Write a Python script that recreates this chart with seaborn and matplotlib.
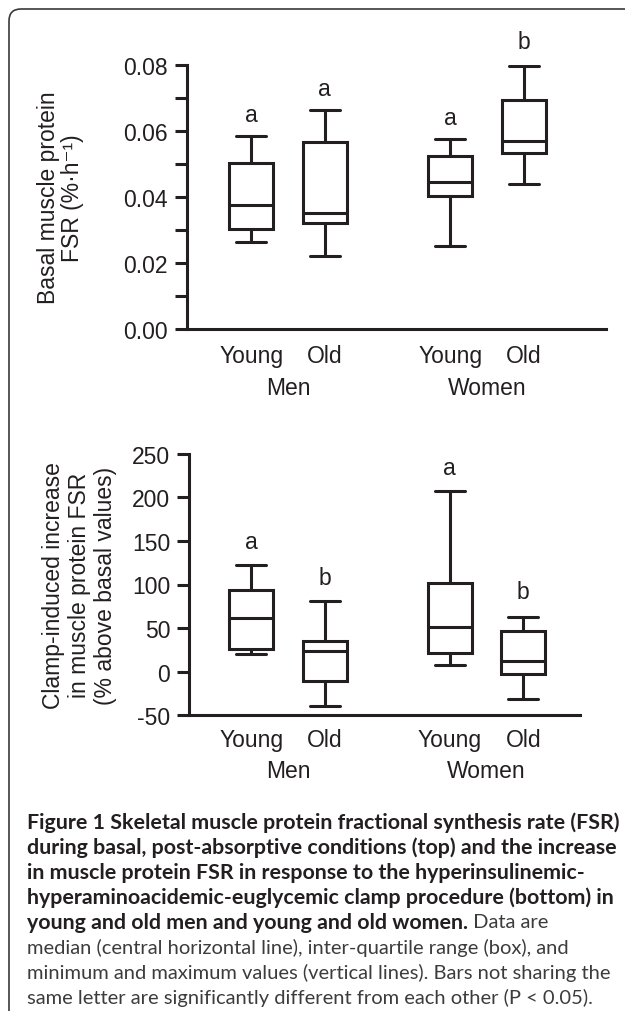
import pandas as pd
import seaborn as sns
import matplotlib.pyplot as plt
from matplotlib.patches import FancyBboxPatch
from matplotlib.ticker import MultipleLocator, FormatStrFormatter

INK = '#231f20'

sexes = ['Men', 'Women']
ages = ['Young', 'Old']

# five-number summaries: min, q1, median, q3, max
# order: Men-Young, Men-Old, Women-Young, Women-Old
basal_fsr = [
    [0.0265, 0.0303, 0.0375, 0.0502, 0.0584],
    [0.0222, 0.0322, 0.0352, 0.0567, 0.0664],
    [0.0253, 0.0404, 0.0446, 0.0524, 0.0577],
    [0.0438, 0.0532, 0.0569, 0.0693, 0.0797],
]
clamp_increase = [
    [20, 26, 61, 94, 122],
    [-40, -11, 24, 35, 81],
    [8, 21, 51, 102, 207],
    [-32, -3, 12, 46, 63],
]
basal_letters = ['a', 'a', 'a', 'b']
basal_letter_y = [0.065, 0.073, 0.064, 0.087]
clamp_letters = ['a', 'b', 'a', 'b']
clamp_letter_y = [149, 108, 235, 92]

caption_bold = [
    'Figure 1 Skeletal muscle protein fractional synthesis rate (FSR)',
    'during basal, post-absorptive conditions (top) and the increase',
    'in muscle protein FSR in response to the hyperinsulinemic-',
    'hyperaminoacidemic-euglycemic clamp procedure (bottom) in',
    'young and old men and young and old women.',
]
caption_plain = [
    ' Data are',
    'median (central horizontal line), inter-quartile range (box), and',
    'minimum and maximum values (vertical lines). Bars not sharing the',
    'same letter are significantly different from each other (P < 0.05).',
]

BOX_SLOT = 0.74
FS = 16.5

sns.set_style('ticks')
plt.rcParams['font.family'] = ['Liberation Sans', 'DejaVu Sans']
plt.rcParams['axes.unicode_minus'] = False
plt.rcParams['text.color'] = INK
plt.rcParams['axes.labelcolor'] = INK
plt.rcParams['xtick.color'] = INK
plt.rcParams['ytick.color'] = INK
plt.rcParams['axes.edgecolor'] = INK


def long_frame(values):
    rows = []
    k = 0
    for s in sexes:
        for a in ages:
            for v in values[k]:
                rows.append({'sex': s, 'age': a, 'value': v})
            k += 1
    return pd.DataFrame(rows)


def draw_panel(ax, values, letters, letter_y, xlim, pads):
    df = long_frame(values)
    sns.boxplot(data=df, x='sex', y='value', hue='age', order=sexes, hue_order=ages,
                width=BOX_SLOT, gap=0.405, whis=(0, 100), palette=['white', 'white'],
                linecolor=INK, linewidth=2.2, capwidths=0.15, legend=False, ax=ax)
    offs = [-BOX_SLOT / 4, BOX_SLOT / 4]
    pos = [i + o for i in range(len(sexes)) for o in offs]
    for p, l, y in zip(pos, letters, letter_y):
        ax.text(p, y, l, ha='center', va='center', fontsize=FS)
    ax.set_xlim(*xlim)
    ax.set_xlabel('')
    ax.set_xticks(range(len(sexes)))
    ax.set_xticklabels(sexes, fontsize=FS, va='baseline')
    ax.set_xticks(pos, minor=True)
    ax.set_xticklabels(ages * len(sexes), minor=True, fontsize=FS, va='baseline')
    ax.tick_params(axis='x', which='major', length=0, pad=pads[1])
    ax.tick_params(axis='x', which='minor', length=0, pad=pads[0])
    ax.tick_params(axis='y', which='both', length=8.6, width=2.2, pad=5, labelsize=FS)
    sns.despine(ax=ax)
    for sp in ['left', 'bottom']:
        ax.spines[sp].set_linewidth(2.2)


fig = plt.figure(figsize=(6.25, 10.12), dpi=100)
W, H = 625, 1012

ax1 = fig.add_axes([187 / W, 1 - 330 / H, 419 / W, 264 / H])
draw_panel(ax1, basal_fsr, basal_letters, basal_letter_y, (-0.5075, 1.598), (23.5, 46.5))
ax1.set_ylim(0, 0.08)
ax1.yaxis.set_major_locator(MultipleLocator(0.02))
ax1.yaxis.set_minor_locator(MultipleLocator(0.01))
ax1.yaxis.set_major_formatter(FormatStrFormatter('%.2f'))
ax1.set_ylabel('Basal muscle protein\nFSR (%·h⁻¹)', fontsize=FS, linespacing=1.05)
ax1.yaxis.set_label_coords(-0.245, 0.5)

ax2 = fig.add_axes([189 / W, 1 - 716 / H, 391 / W, 261 / H])
draw_panel(ax2, clamp_increase, clamp_letters, clamp_letter_y, (-0.499, 1.471), (22, 45))
ax2.set_ylim(-50, 250)
ax2.yaxis.set_major_locator(MultipleLocator(50))
ax2.set_ylabel('Clamp-induced increase\nin muscle protein FSR\n(% above basal values)',
               fontsize=FS, linespacing=1.15)
ax2.yaxis.set_label_coords(-0.185, 0.5)

# rounded frame: only top and left edges are inside the picture
frame = FancyBboxPatch((0.09, -1.0), 10.0, 11.02,
                       boxstyle='round,pad=0,rounding_size=0.12',
                       transform=fig.dpi_scale_trans, facecolor='none',
                       edgecolor='#3a3a3a', linewidth=1.2)
fig.patches.append(frame)

# caption, sized so the lines span the same width as the original
renderer = fig.canvas.get_renderer()
probe = fig.text(0, 0, caption_bold[0], fontfamily='Lato', fontweight='bold', fontsize=12)
bold_fs = 12 * 588 / probe.get_window_extent(renderer).width
probe.remove()
probe = fig.text(0, 0, caption_plain[2], fontfamily='Lato', fontsize=12)
plain_fs = 12 * 584 / probe.get_window_extent(renderer).width
probe.remove()

x0 = 27 / W
line_y = [823 + 25 * i for i in range(8)]
for i, line in enumerate(caption_bold):
    t = fig.text(x0, 1 - line_y[i] / H, line, fontfamily='Lato', fontweight='bold',
                 fontsize=bold_fs, va='center', color=INK)
last = t.get_window_extent(renderer)
fig.text(last.x1 / W, 1 - line_y[4] / H, caption_plain[0], fontfamily='Lato',
         fontsize=plain_fs, va='center', color='#3c3c3c')
for i, line in enumerate(caption_plain[1:]):
    fig.text(x0, 1 - line_y[5 + i] / H, line, fontfamily='Lato',
             fontsize=plain_fs, va='center', color='#3c3c3c')

fig.savefig('out.png', dpi=100)
